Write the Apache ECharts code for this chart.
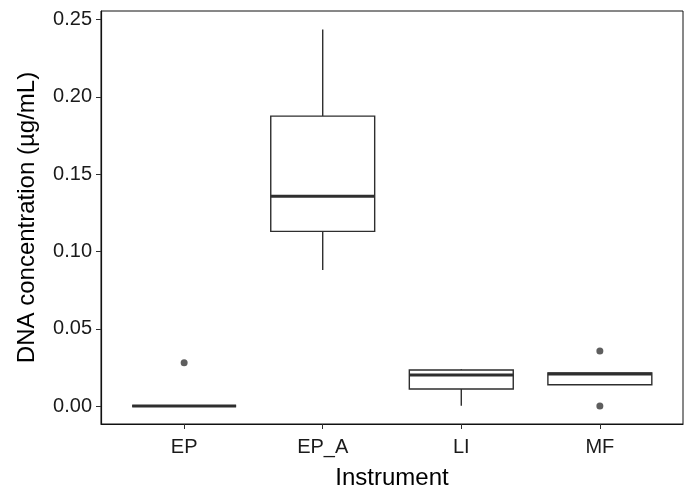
<!DOCTYPE html>
<html>
<head>
<meta charset="utf-8">
<script src="https://cdn.jsdelivr.net/npm/echarts@6/dist/echarts.min.js"></script>
<style>
html,body{margin:0;padding:0;background:#fff;}
#chart{width:684px;height:490px;}
</style>
</head>
<body>
<div id="chart"></div>
<script>
// Data
var categories = ['EP', 'EP_A', 'LI', 'MF'];
// [lower whisker, Q1, median, Q3, upper whisker]
var boxMin    = [0.0000, 0.0880, 0.0002, 0.0138];
var boxQ1     = [0.0000, 0.1130, 0.0110, 0.0138];
var boxMedian = [0.0000, 0.1357, 0.0201, 0.0207];
var boxQ3     = [0.0000, 0.1876, 0.0233, 0.0215];
var boxMax    = [0.0000, 0.2437, 0.0239, 0.0215];
// outliers: category index, value
var outlierCat   = [0, 3, 3];
var outlierValue = [0.0280, 0.0356, 0.0000];
var yTicks = [0, 0.05, 0.10, 0.15, 0.20, 0.25];
var xTicks = [1, 2, 3, 4];

var boxData = categories.map(function (c, i) {
  return [i + 1, boxMin[i], boxQ1[i], boxMedian[i], boxQ3[i], boxMax[i]];
});
var outlierData = outlierCat.map(function (c, i) { return [c + 1, outlierValue[i]]; });

var FONT = '"Liberation Sans", Arial, Helvetica, sans-serif';
var LINE = '#2e2e2e';

var chart = echarts.init(document.getElementById('chart'), null, {renderer: 'canvas'});
chart.setOption({
  animation: false,
  backgroundColor: '#ffffff',
  grid: {left: 101, right: 1, top: 11, bottom: 66, containLabel: false, outerBoundsMode: 'none',
    show: true, borderColor: '#111', borderWidth: 1, backgroundColor: 'transparent'},
  xAxis: {
    type: 'value', min: 0.4, max: 4.6,
    name: 'Instrument', nameLocation: 'middle', nameGap: 42,
    nameTextStyle: {fontFamily: FONT, fontSize: 24, color: '#000'},
    splitLine: {show: false},
    axisLine: {show: true, onZero: false, lineStyle: {color: '#111', width: 1.2}},
    axisTick: {show: true, length: 5, lineStyle: {color: LINE}, customValues: xTicks},
    axisLabel: {fontFamily: FONT, fontSize: 20, color: '#1a1a1a', margin: 13, customValues: xTicks,
      formatter: function (v) { return categories[Math.round(v) - 1] || ''; }}
  },
  yAxis: {
    type: 'value', min: -0.0116, max: 0.2556,
    name: 'DNA concentration (µg/mL)', nameLocation: 'middle', nameGap: 62,
    nameTextStyle: {fontFamily: FONT, fontSize: 24, color: '#000'},
    splitLine: {show: false},
    axisLine: {show: true, onZero: false, lineStyle: {color: '#111', width: 1.2}},
    axisTick: {show: true, length: 5, lineStyle: {color: LINE}, customValues: yTicks},
    axisLabel: {fontFamily: FONT, fontSize: 20, color: '#1a1a1a', margin: 9, customValues: yTicks,
      formatter: function (v) { return v.toFixed(2); }}
  },
  series: [
    {
      type: 'custom',
      data: boxData,
      encode: {x: 0, y: [1, 2, 3, 4, 5]},
      renderItem: function (params, api) {
        var x = api.value(0);
        var band = api.size([1, 0])[0];
        var half = band * 0.375;
        var pMin = api.coord([x, api.value(1)]);
        var pQ1 = api.coord([x, api.value(2)]);
        var pMed = api.coord([x, api.value(3)]);
        var pQ3 = api.coord([x, api.value(4)]);
        var pMax = api.coord([x, api.value(5)]);
        var cx = pMed[0];
        var st = {stroke: LINE, lineWidth: 1.4, fill: null};
        return {
          type: 'group',
          children: [
            {type: 'line', shape: {x1: cx, y1: pQ3[1], x2: cx, y2: pMax[1]}, style: st},
            {type: 'line', shape: {x1: cx, y1: pQ1[1], x2: cx, y2: pMin[1]}, style: st},
            {type: 'rect', shape: {x: cx - half, y: pQ3[1], width: half * 2, height: pQ1[1] - pQ3[1]},
              style: {stroke: LINE, lineWidth: 1.4, fill: '#ffffff'}},
            {type: 'line', shape: {x1: cx - half, y1: pMed[1], x2: cx + half, y2: pMed[1]},
              style: {stroke: LINE, lineWidth: 3}}
          ]
        };
      }
    },
    {
      type: 'scatter',
      data: outlierData,
      symbol: 'circle',
      symbolSize: 7,
      itemStyle: {color: '#363636'}
    }
  ]
});
</script>
</body>
</html>
